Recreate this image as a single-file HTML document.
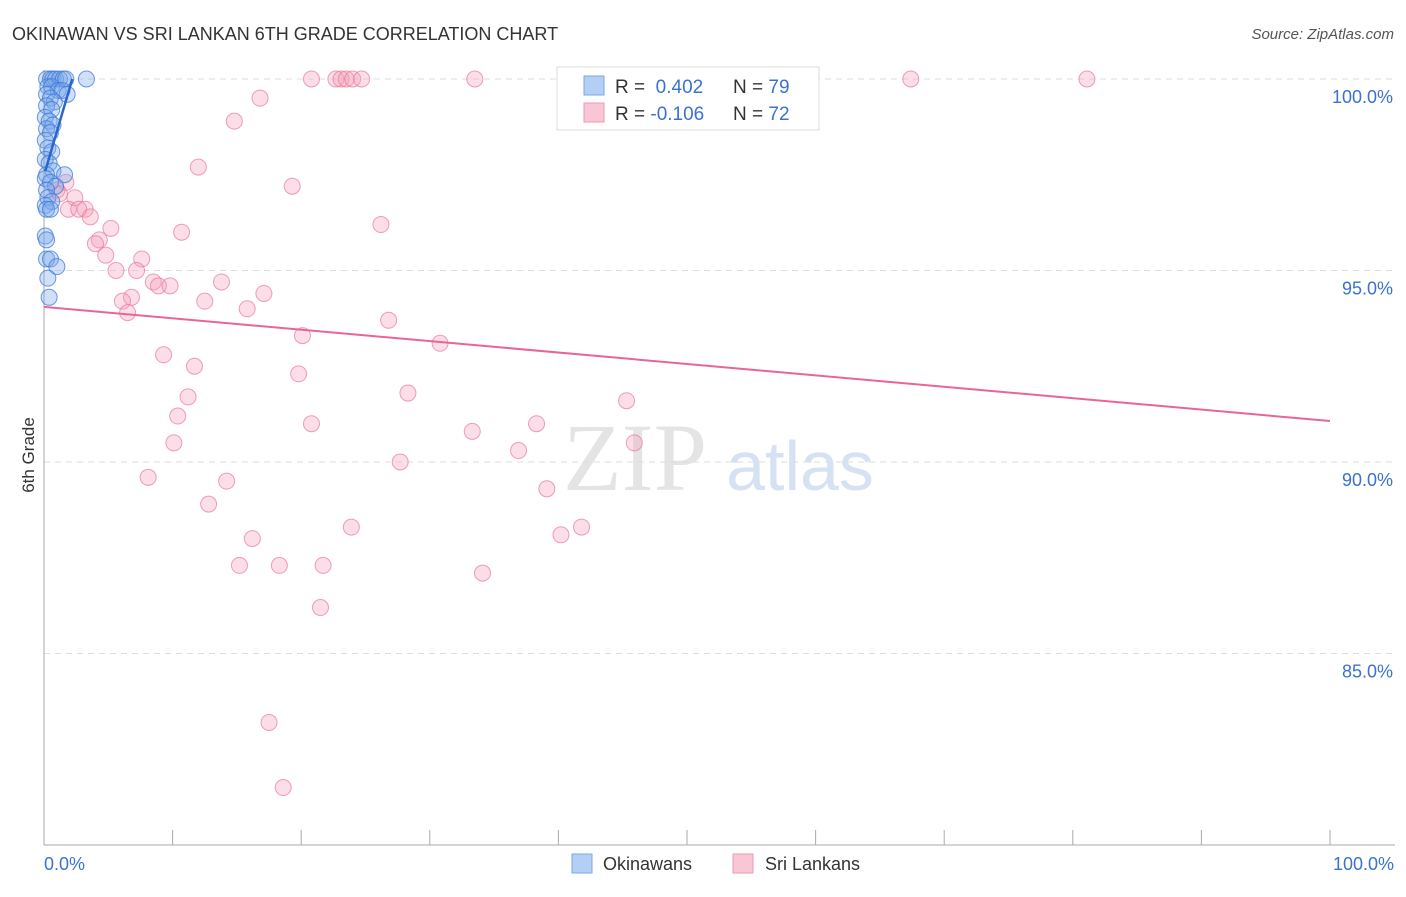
<!DOCTYPE html>
<html><head><meta charset="utf-8"><style>
body{margin:0;background:#fff;font-family:"Liberation Sans",sans-serif}
</style></head><body>
<svg width="1406" height="892" xmlns="http://www.w3.org/2000/svg">
<text x="12" y="40" font-size="18" fill="#333">OKINAWAN VS SRI LANKAN 6TH GRADE CORRELATION CHART</text>
<text x="1394" y="39" font-size="15" fill="#555" text-anchor="end" font-style="italic">Source: ZipAtlas.com</text>
<text x="34" y="455" font-size="17" fill="#333" transform="rotate(-90 34 455)" text-anchor="middle">6th Grade</text>
<text x="635" y="490" font-size="96" fill="#e4e4e4" font-family="Liberation Serif,serif" text-anchor="middle">ZIP</text>
<text x="800" y="490" font-size="70" fill="#d6e2f3" text-anchor="middle">atlas</text>
<g id="grid"></g><g id="axes"></g><g id="pink"></g><g id="blue"></g><g id="lines"></g>
<g>
<rect x="557" y="67" width="262" height="63" fill="#fff" stroke="#ddd"/>
<rect x="584" y="76" width="20" height="19" fill="#b3cff5" stroke="#7aa9e6"/>
<rect x="584" y="103" width="20" height="19" fill="#f8c6d4" stroke="#ee9ab3"/>
<text x="615" y="93" font-size="19" fill="#333">R = <tspan fill="#3a72d0">&#160;0.402</tspan><tspan x="733">N = </tspan><tspan fill="#3a72d0">79</tspan></text>
<text x="615" y="120" font-size="19" fill="#333">R = <tspan fill="#3a72d0">-0.106</tspan><tspan x="733">N = </tspan><tspan fill="#3a72d0">72</tspan></text>
</g>
<g>
<rect x="572" y="854" width="20" height="19" fill="#b3cff5" stroke="#7aa9e6"/>
<text x="603" y="870" font-size="18" fill="#333">Okinawans</text>
<rect x="733" y="854" width="20" height="19" fill="#f8c6d4" stroke="#ee9ab3"/>
<text x="765" y="870" font-size="18" fill="#333">Sri Lankans</text>
</g>
</svg>
<script>
const yTicks=[100,95,90,85];
const xTickLabels=["0.0%","100.0%"];
const pinkX=[20.8,22.7,23.1,23.5,24.0,24.7,33.5,67.4,81.1,16.8,14.8,12.0,19.3,26.2,10.7,5.2,1.7,1.0,1.2,2.4,3.2,1.9,2.7,3.6,4.3,4.0,4.8,7.6,5.6,7.2,8.5,8.9,9.8,13.8,17.1,6.8,6.1,12.5,15.8,6.5,26.8,20.1,30.8,9.3,11.7,19.8,28.3,11.2,10.4,20.8,10.1,33.3,38.3,45.3,45.9,36.9,27.7,8.1,14.2,39.1,12.8,23.9,16.2,41.8,40.2,15.2,18.3,21.7,34.1,21.5,17.5,18.6];
const pinkY=[100,100,100,100,100,100,100,100,100,99.5,98.9,97.7,97.2,96.2,96.0,96.1,97.3,97.1,97.0,96.9,96.6,96.6,96.6,96.4,95.8,95.7,95.4,95.3,95.0,95.0,94.7,94.6,94.6,94.7,94.4,94.3,94.2,94.2,94.0,93.9,93.7,93.3,93.1,92.8,92.5,92.3,91.8,91.7,91.2,91.0,90.5,90.8,91.0,91.6,90.5,90.3,90.0,89.6,89.5,89.3,88.9,88.3,88.0,88.3,88.1,87.3,87.3,87.3,87.1,86.2,83.2,81.5];
const blueX=[0.2,0.5,0.7,0.9,1.2,1.5,1.7,3.3,0.3,0.6,1.1,1.4,1.8,0.2,0.5,0.8,0.2,0.6,0.1,0.4,0.7,0.2,0.5,0.1,0.3,0.6,0.1,0.4,0.7,0.2,1.6,0.1,0.5,0.9,0.2,0.3,0.6,0.1,0.2,0.5,0.1,0.2,0.2,0.5,1.0,0.3,0.4];
const blueY=[100,100,100,100,100,100,100,100,99.8,99.8,99.7,99.7,99.6,99.6,99.5,99.4,99.3,99.2,99.0,98.9,98.8,98.7,98.6,98.4,98.2,98.1,97.9,97.8,97.6,97.5,97.5,97.4,97.3,97.2,97.1,96.9,96.8,96.7,96.6,96.6,95.9,95.8,95.3,95.3,95.1,94.8,94.3];
const pinkLine=[[0,94.05],[100,91.07]];
const blueLine=[[0.1,97.6],[2.2,100]];
const X=v=>44+v*12.86, Y=v=>79+(100-v)*38.3;
const NS="http://www.w3.org/2000/svg";
function mk(p,t,a){const e=document.createElementNS(NS,t);for(const k in a)e.setAttribute(k,a[k]);document.getElementById(p).appendChild(e);return e;}
yTicks.forEach(t=>{
const g=mk("grid","line",{x1:44,x2:1395,y1:Y(t),y2:Y(t),stroke:"#ddd","stroke-dasharray":"6,5"});


const l=mk("grid","text",{x:1393,y:Y(t)+24,"font-size":18,fill:"#3a72d0","text-anchor":"end"});l.textContent=t.toFixed(1)+"%";


});
const ax=mk("axes","line",{x1:44,x2:44,y1:70,y2:845,stroke:"#aaa"});


const bx=mk("axes","line",{x1:44,x2:1395,y1:845,y2:845,stroke:"#aaa"});


for(let i=0;i<=10;i++){const t=mk("axes","line",{x1:X(i*10),x2:X(i*10),y1:830,y2:845,stroke:"#aaa"});

}
[[0,"start",X(0)],[1,"end",1394]].forEach(([i,a,x])=>{const l=mk("axes","text",{x:x,y:870,"font-size":18,fill:"#3a72d0","text-anchor":a});l.textContent=xTickLabels[i];

});
pinkX.forEach((v,i)=>{const c=mk("pink","circle",{cx:X(v),cy:Y(pinkY[i]),r:8,fill:"rgba(244,160,185,0.35)",stroke:"rgba(232,120,155,0.7)","stroke-width":1});

});
blueX.forEach((v,i)=>{const c=mk("blue","circle",{cx:X(v),cy:Y(blueY[i]),r:8,fill:"rgba(120,165,235,0.35)",stroke:"rgba(60,120,215,0.75)","stroke-width":1});

});
const pl=mk("lines","line",{x1:X(pinkLine[0][0]),y1:Y(pinkLine[0][1]),x2:X(pinkLine[1][0]),y2:Y(pinkLine[1][1]),stroke:"#e8659a","stroke-width":2});


const bl=mk("lines","line",{x1:X(blueLine[0][0]),y1:Y(blueLine[0][1]),x2:X(blueLine[1][0]),y2:Y(blueLine[1][1]),stroke:"#2a66cc","stroke-width":2.5});


</script>
</body></html>
